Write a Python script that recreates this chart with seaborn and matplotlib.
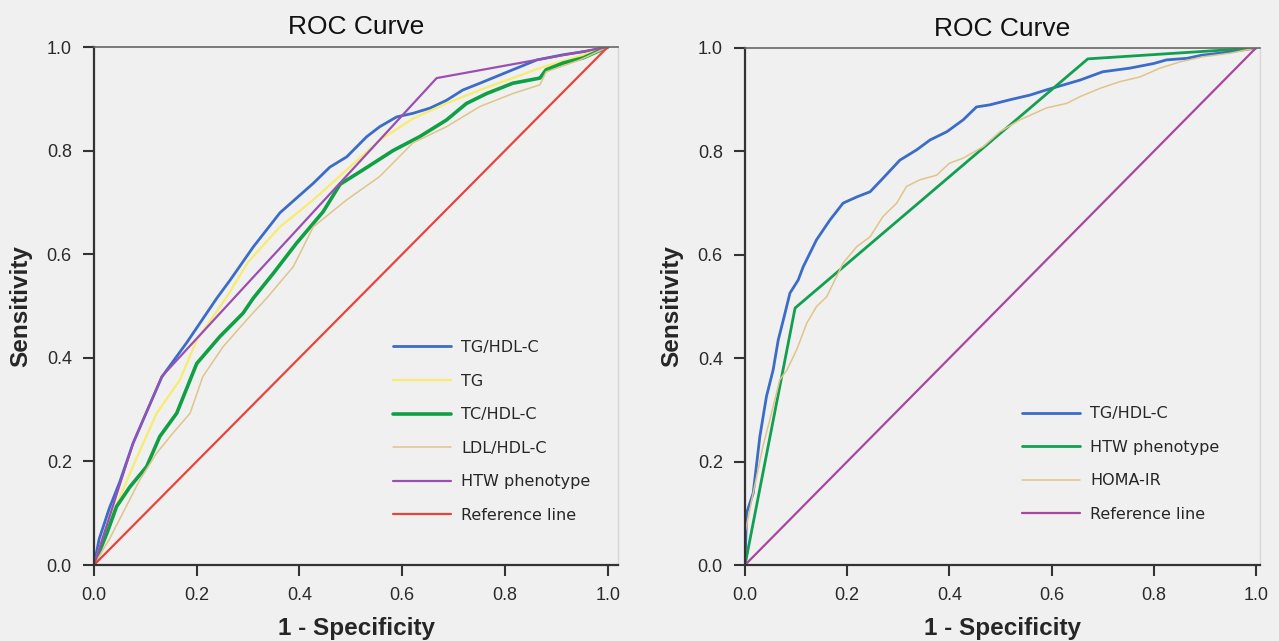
import seaborn as sns
import matplotlib.pyplot as plt

sns.set_theme(style="ticks")
plt.rcParams['font.family'] = ['Liberation Sans', 'DejaVu Sans']

# ---- left panel data (1 - specificity, sensitivity) ----
tg_hdl_x = [0, 0.01, 0.03, 0.05, 0.076, 0.1, 0.132, 0.181, 0.239, 0.265, 0.31, 0.362, 0.427, 0.459,
            0.492, 0.531, 0.556, 0.589, 0.621, 0.654, 0.686, 0.718, 0.751, 0.815, 0.862, 0.913,
            0.96, 1.0]
tg_hdl_y = [0, 0.05, 0.11, 0.16, 0.235, 0.29, 0.363, 0.43, 0.515, 0.55, 0.614, 0.68, 0.737, 0.768,
            0.788, 0.827, 0.846, 0.865, 0.872, 0.882, 0.897, 0.917, 0.93, 0.956, 0.975, 0.985,
            0.992, 1.0]

tg_x = [0, 0.02, 0.05, 0.08, 0.122, 0.167, 0.2, 0.258, 0.3, 0.362, 0.427, 0.492, 0.556, 0.621,
        0.686, 0.751, 0.815, 0.87, 0.93, 1.0]
tg_y = [0, 0.06, 0.13, 0.2, 0.293, 0.357, 0.434, 0.517, 0.585, 0.653, 0.705, 0.763, 0.82, 0.862,
        0.891, 0.917, 0.94, 0.96, 0.978, 1.0]

tc_hdl_x = [0, 0.025, 0.044, 0.07, 0.1025, 0.128, 0.161, 0.2, 0.245, 0.29, 0.31, 0.349, 0.394,
            0.446, 0.479, 0.524, 0.582, 0.634, 0.686, 0.725, 0.764, 0.815, 0.868, 0.88, 0.913,
            0.952, 1.0]
tc_hdl_y = [0, 0.061, 0.113, 0.151, 0.19, 0.248, 0.293, 0.389, 0.441, 0.486, 0.515, 0.563, 0.621,
            0.682, 0.735, 0.763, 0.80, 0.827, 0.859, 0.891, 0.91, 0.93, 0.94, 0.956, 0.969,
            0.979, 1.0]

ldl_hdl_x = [0, 0.03, 0.056, 0.089, 0.122, 0.154, 0.187, 0.212, 0.251, 0.297, 0.336, 0.388, 0.427,
             0.492, 0.556, 0.621, 0.686, 0.751, 0.815, 0.868, 0.88, 0.946, 1.0]
ldl_hdl_y = [0, 0.05, 0.1, 0.164, 0.216, 0.255, 0.293, 0.364, 0.421, 0.473, 0.515, 0.576, 0.653,
             0.705, 0.75, 0.815, 0.846, 0.885, 0.91, 0.927, 0.952, 0.975, 1.0]

htw_left_x = [0, 0.076, 0.132, 0.667, 1.0]
htw_left_y = [0, 0.235, 0.364, 0.94, 1.0]

# ---- right panel data ----
tg_hdl2_x = [0, 0.003, 0.016, 0.029, 0.042, 0.055, 0.065, 0.075, 0.088, 0.104, 0.114, 0.14, 0.166,
             0.192, 0.219, 0.245, 0.27, 0.303, 0.336, 0.362, 0.395, 0.427, 0.453, 0.479, 0.519,
             0.558, 0.59, 0.656, 0.70, 0.753, 0.80, 0.825, 0.865, 0.894, 0.93, 1.0]
tg_hdl2_y = [0, 0.1, 0.139, 0.248, 0.326, 0.377, 0.435, 0.474, 0.526, 0.551, 0.577, 0.629, 0.667,
             0.70, 0.712, 0.722, 0.748, 0.783, 0.803, 0.822, 0.838, 0.861, 0.886, 0.89, 0.90,
             0.909, 0.919, 0.938, 0.954, 0.961, 0.97, 0.977, 0.98, 0.986, 0.99, 1.0]

htw_right_x = [0, 0.098, 0.671, 1.0]
htw_right_y = [0, 0.497, 0.979, 1.0]

homa_x = [0, 0.0, 0.016, 0.035, 0.055, 0.068, 0.082, 0.101, 0.121, 0.14, 0.16, 0.192, 0.219, 0.245,
          0.27, 0.297, 0.316, 0.342, 0.375, 0.40, 0.427, 0.466, 0.499, 0.538, 0.59, 0.63, 0.656,
          0.695, 0.734, 0.773, 0.812, 0.851, 0.896, 0.95, 1.0]
homa_y = [0, 0.062, 0.139, 0.229, 0.306, 0.358, 0.377, 0.416, 0.468, 0.50, 0.519, 0.584, 0.616,
          0.635, 0.674, 0.70, 0.732, 0.745, 0.754, 0.777, 0.787, 0.809, 0.838, 0.861, 0.884,
          0.893, 0.906, 0.922, 0.935, 0.944, 0.961, 0.973, 0.983, 0.99, 1.0]

ref_x = [0, 1]
ref_y = [0, 1]

ticks = [0.0, 0.2, 0.4, 0.6, 0.8, 1.0]
tick_labels = ["0.0", "0.2", "0.4", "0.6", "0.8", "1.0"]

bg = "#f0f0f0"
fig = plt.figure(figsize=(12.79, 6.41), dpi=100, facecolor=bg)
ax1 = fig.add_axes([94 / 1279, 76 / 641, 524 / 1279, 518 / 641])
ax2 = fig.add_axes([745 / 1279, 76 / 641, 515 / 1279, 517 / 641])


def line(ax, x, y, color, lw, label):
    sns.lineplot(x=x, y=y, ax=ax, color=color, linewidth=lw, label=label,
                 estimator=None, sort=False)


line(ax1, tg_hdl_x, tg_hdl_y, "#3a6cc8", 2.0, "TG/HDL-C")
line(ax1, tg_x, tg_y, "#f7ec6e", 1.6, "TG")
line(ax1, tc_hdl_x, tc_hdl_y, "#10a044", 2.6, "TC/HDL-C")
line(ax1, ldl_hdl_x, ldl_hdl_y, "#e0c489", 1.1, "LDL/HDL-C")
line(ax1, htw_left_x, htw_left_y, "#9b4fb3", 1.6, "HTW phenotype")
line(ax1, ref_x, ref_y, "#e8443a", 1.6, "Reference line")

line(ax2, tg_hdl2_x, tg_hdl2_y, "#3a6cc8", 2.0, "TG/HDL-C")
line(ax2, htw_right_x, htw_right_y, "#12a050", 2.0, "HTW phenotype")
line(ax2, homa_x, homa_y, "#e0c489", 1.1, "HOMA-IR")
line(ax2, ref_x, ref_y, "#a8479e", 1.6, "Reference line")

for ax, xmax in [(ax1, 1.02), (ax2, 1.008)]:
    ax.set_facecolor(bg)
    ax.set_xlim(0, xmax)
    ax.set_ylim(0, 1.0)
    ax.set_xticks(ticks)
    ax.set_xticklabels(tick_labels)
    ax.set_yticks(ticks)
    ax.set_yticklabels(tick_labels)
    ax.tick_params(axis="both", labelsize=13, length=8, width=1.5, color="#333333",
                   labelcolor="#2a2a2a", pad=8)
    for s in ["left", "bottom"]:
        ax.spines[s].set_color("#333333")
        ax.spines[s].set_linewidth(1.6)
    ax.spines["top"].set_color("#666666")
    ax.spines["top"].set_linewidth(1.2)
    ax.spines["right"].set_color("#d8d8d8")
    ax.spines["right"].set_linewidth(1.0)
    ax.set_title("ROC Curve", fontsize=19, pad=9, color="#111111")
    ax.set_xlabel("1 - Specificity", fontsize=17.5, fontweight="bold", labelpad=9)
    ax.set_ylabel("Sensitivity", fontsize=17.5, fontweight="bold", labelpad=10)

leg_font = {"family": "DejaVu Sans", "size": 11.5}
ax1.legend(loc="upper left", bbox_to_anchor=(0.544, 0.462), frameon=False, prop=leg_font,
           handlelength=3.6, handletextpad=0.65, labelspacing=1.16)
ax2.legend(loc="upper left", bbox_to_anchor=(0.51, 0.335), frameon=False, prop=leg_font,
           handlelength=3.6, handletextpad=0.65, labelspacing=1.16)

fig.savefig("out.png", dpi=100, facecolor=bg)
